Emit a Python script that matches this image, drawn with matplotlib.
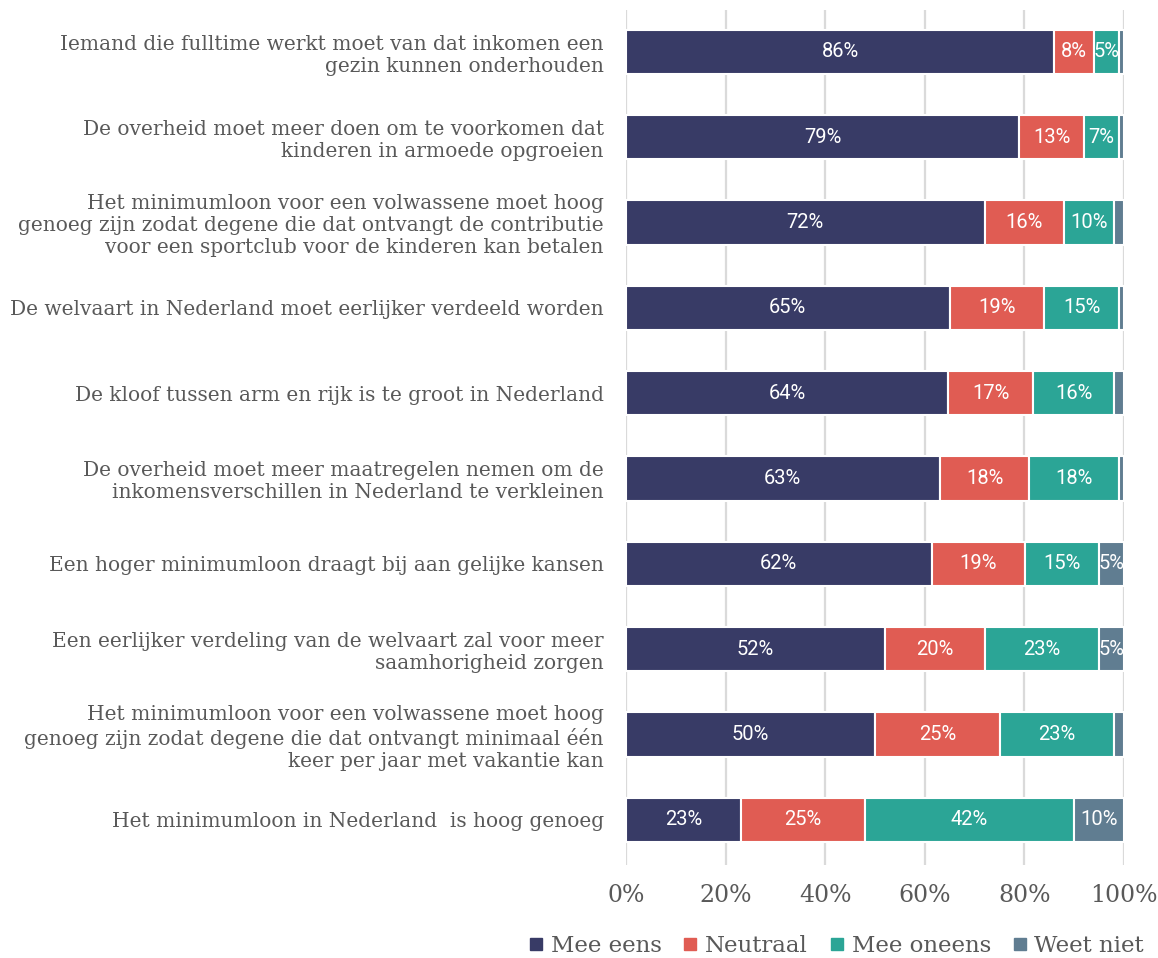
import numpy as np
import matplotlib.pyplot as plt
from matplotlib.lines import Line2D

# Data
stellingen = [
    "Iemand die fulltime werkt moet van dat inkomen een\ngezin kunnen onderhouden",
    "De overheid moet meer doen om te voorkomen dat\nkinderen in armoede opgroeien",
    "Het minimumloon voor een volwassene moet hoog\ngenoeg zijn zodat degene die dat ontvangt de contributie\nvoor een sportclub voor de kinderen kan betalen",
    "De welvaart in Nederland moet eerlijker verdeeld worden",
    "De kloof tussen arm en rijk is te groot in Nederland",
    "De overheid moet meer maatregelen nemen om de\ninkomensverschillen in Nederland te verkleinen",
    "Een hoger minimumloon draagt bij aan gelijke kansen",
    "Een eerlijker verdeling van de welvaart zal voor meer\nsaamhorigheid zorgen",
    "Het minimumloon voor een volwassene moet hoog\ngenoeg zijn zodat degene die dat ontvangt minimaal één\nkeer per jaar met vakantie kan",
    "Het minimumloon in Nederland  is hoog genoeg",
]
mee_eens   = [86, 79, 72, 65, 64, 63, 62, 52, 50, 23]
neutraal   = [8, 13, 16, 19, 17, 18, 19, 20, 25, 25]
mee_oneens = [5, 7, 10, 15, 16, 18, 15, 23, 23, 42]
weet_niet  = [1, 1, 2, 1, 2, 1, 5, 5, 2, 10]

series = [("Mee eens", mee_eens, "#383b66"),
          ("Neutraal", neutraal, "#e05c53"),
          ("Mee oneens", mee_oneens, "#2ba596"),
          ("Weet niet", weet_niet, "#607d91")]

# 100% gestapeld
tot = np.array(mee_eens) + np.array(neutraal) + np.array(mee_oneens) + np.array(weet_niet)

fig = plt.figure(figsize=(11.58, 9.58), dpi=100)
fig.patch.set_facecolor('white')
ax = fig.add_axes([626/1158, 1 - 865/958, (1124 - 626)/1158, (865 - 10)/958])

y = np.arange(len(stellingen))
left = np.zeros(len(stellingen))
for naam, vals, kleur in series:
    w = np.array(vals) / tot * 100
    ax.barh(y, w, left=left, height=0.52, color=kleur, edgecolor='white',
            linewidth=1.5, zorder=3)
    for yi, li, wi, v in zip(y, left, w, vals):
        if v >= 5:
            ax.text(li + wi / 2, yi, f"{v}%", ha='center', va='center',
                    color='white', fontsize=14.5, family='Roboto', zorder=4)
    left += w

ax.set_xlim(0, 100)
ax.set_ylim(9.53, -0.49)
ax.set_xticks(np.arange(0, 101, 20))
ax.set_xticklabels([f"{t}%" for t in range(0, 101, 20)], family='DejaVu Serif',
                   fontsize=17, color='#595959')
ax.set_yticks(y)
ax.set_yticklabels(stellingen, family='DejaVu Serif', fontsize=14.5, color='#595959',
                   linespacing=1.2)
ax.tick_params(axis='x', length=0, pad=14)
ax.tick_params(axis='y', length=0, pad=16)
ax.grid(axis='x', color='#dadada', linewidth=1.6, zorder=0)
for s in ax.spines.values():
    s.set_visible(False)

handles = [Line2D([], [], marker='s', linestyle='', markersize=9, color=k) for _, _, k in series]
fig.legend(handles, [n for n, _, _ in series], loc='center', ncol=4,
           bbox_to_anchor=(836/1158, 0.013), bbox_transform=fig.transFigure,
           frameon=False, prop={'family': 'DejaVu Serif', 'size': 16.5},
           handlelength=0.7, handletextpad=0.3, columnspacing=0.9,
           labelcolor='#595959', borderpad=0)

plt.savefig('out.png', dpi=100)
